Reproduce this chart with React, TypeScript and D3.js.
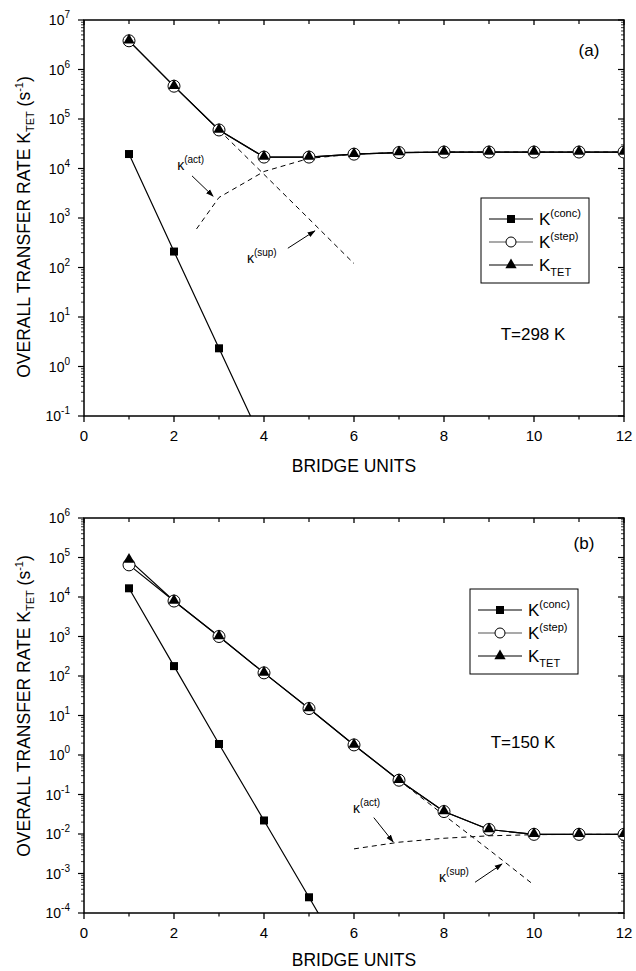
import * as d3 from 'd3';

// bridge units 1..12
const units = [1, 2, 3, 4, 5, 6, 7, 8, 9, 10, 11, 12];

// panel (a), T = 298 K
const aStep = [3.8e6, 4.6e5, 6.0e4, 1.7e4, 1.7e4, 1.95e4, 2.1e4, 2.15e4, 2.15e4, 2.15e4, 2.15e4, 2.15e4];
const aTet = [3.8e6, 4.6e5, 6.0e4, 1.7e4, 1.7e4, 1.95e4, 2.1e4, 2.15e4, 2.15e4, 2.15e4, 2.15e4, 2.15e4];
const aConcX = [1, 2, 3, 4];
const aConc = [1.96e4, 210, 2.33, 0.026];
const aActX = [2.5, 3, 4, 5, 6, 7, 8, 9, 10, 11, 12];
const aAct = [600, 2.6e3, 8.7e3, 1.6e4, 1.95e4, 2.1e4, 2.15e4, 2.15e4, 2.15e4, 2.15e4, 2.15e4];
const aSupX = [3, 4, 5, 6];
const aSup = [6.0e4, 7.6e3, 9.6e2, 1.2e2];

// panel (b), T = 150 K
const bStep = [6.5e4, 7.9e3, 1.0e3, 1.2e2, 15, 1.8, 0.23, 0.037, 0.013, 0.0098, 0.0098, 0.0098];
const bTet = [8.7e4, 7.9e3, 1.0e3, 1.2e2, 15, 1.8, 0.23, 0.037, 0.013, 0.0098, 0.0098, 0.0098];
const bConcX = [1, 2, 3, 4, 5, 6];
const bConc = [1.66e4, 178, 1.9, 0.022, 2.5e-4, 2.8e-6];
const bActX = [6, 7, 8, 9, 10, 11, 12];
const bAct = [4.2e-3, 6.2e-3, 7.8e-3, 9.0e-3, 9.6e-3, 9.8e-3, 9.8e-3];
const bSupX = [7, 8, 9, 10];
const bSup = [0.23, 0.03, 4.0e-3, 5.1e-4];

const xTicks = [0, 2, 4, 6, 8, 10, 12];
const xMinor = [1, 3, 5, 7, 9, 11];

const FONT = 'Arial, "Liberation Sans", Helvetica, sans-serif';

type PanelProps = {
  id: string;
  top: number;
  bottom: number;
  yMin: number;
  yMax: number;
  step: number[];
  tet: number[];
  concX: number[];
  conc: number[];
  actX: number[];
  act: number[];
  supX: number[];
  sup: number[];
  tag: string;
  tagPos: [number, number];
  temp: string;
  tempPos: [number, number];
  legendPos: [number, number];
  actLabel: [number, number];
  actArrow: [number, number, number, number];
  supLabel: [number, number];
  supArrow: [number, number, number, number];
  titleY: number;
  xTitleGap: number;
};

const left = 84;
const right = 624;

function Panel(p: PanelProps) {
  const x = d3.scaleLinear().domain([0, 12]).range([left, right]);
  const y = d3.scaleLog().domain([p.yMin, p.yMax]).range([p.bottom, p.top]);
  const lo = Math.round(Math.log10(p.yMin));
  const hi = Math.round(Math.log10(p.yMax));
  const decades = d3.range(lo, hi + 1);
  const minor: number[] = [];
  decades.slice(0, -1).forEach(d => {
    for (let k = 2; k <= 9; k++) minor.push(k * Math.pow(10, d));
  });

  const line = d3.line<[number, number]>().x(d => x(d[0])).y(d => y(d[1]));
  const pts = (xs: number[], ys: number[]) => xs.map((v, i) => [v, ys[i]] as [number, number]);
  const clip = `clip-${p.id}`;
  const tri = d3.symbol().type(d3.symbolTriangle).size(55)();
  const lx = p.legendPos[0];
  const ly = p.legendPos[1];
  const rowGap = 23;

  const kappa = (pos: [number, number], sup: string) => (
    <text x={x(pos[0])} y={y(pos[1])} fontSize={14} fontFamily={FONT} fill="#000">
      κ<tspan dy={-7} fontSize={10}>{sup}</tspan>
    </text>
  );
  const arrow = (a: [number, number, number, number]) => (
    <line x1={x(a[0])} y1={y(a[1])} x2={x(a[2])} y2={y(a[3])} stroke="#000" strokeWidth={1} markerEnd="url(#arrowhead)" />
  );

  return (
    <g>
      <defs>
        <clipPath id={clip}>
          <rect x={left} y={p.top} width={right - left} height={p.bottom - p.top} />
        </clipPath>
      </defs>

      {/* frame */}
      <rect x={left} y={p.top} width={right - left} height={p.bottom - p.top} fill="none" stroke="#000" strokeWidth={1.5} />

      {/* x ticks */}
      {xTicks.map(t => (
        <g key={'xt' + t}>
          <line x1={x(t)} x2={x(t)} y1={p.bottom} y2={p.bottom + 6} stroke="#000" strokeWidth={1.3} />
          <line x1={x(t)} x2={x(t)} y1={p.top} y2={p.top + 5} stroke="#000" strokeWidth={1.3} />
          <text x={x(t)} y={p.bottom + 25} textAnchor="middle" fontSize={15} fontFamily={FONT}>{t}</text>
        </g>
      ))}
      {xMinor.map(t => (
        <g key={'xm' + t}>
          <line x1={x(t)} x2={x(t)} y1={p.bottom} y2={p.bottom + 3.5} stroke="#000" strokeWidth={1.2} />
          <line x1={x(t)} x2={x(t)} y1={p.top} y2={p.top + 4} stroke="#000" strokeWidth={1.2} />
        </g>
      ))}
      <text x={(left + right) / 2} y={p.bottom + p.xTitleGap} textAnchor="middle" fontSize={17.5} fontFamily={FONT}>BRIDGE UNITS</text>

      {/* y ticks */}
      {decades.map(d => (
        <g key={'yt' + d}>
          <line x1={left - 6} x2={left} y1={y(Math.pow(10, d))} y2={y(Math.pow(10, d))} stroke="#000" strokeWidth={1.2} />
          <line x1={right - 6} x2={right} y1={y(Math.pow(10, d))} y2={y(Math.pow(10, d))} stroke="#000" strokeWidth={1.2} />
          <text x={70} y={y(Math.pow(10, d)) + 5} textAnchor="end" fontSize={14} fontFamily={FONT}>
            10<tspan dy={-7} fontSize={10}>{d}</tspan>
          </text>
        </g>
      ))}
      {minor.map((v, i) => (
        <g key={'ym' + i}>
          <line x1={left - 3} x2={left} y1={y(v)} y2={y(v)} stroke="#000" strokeWidth={0.8} />
          <line x1={right - 3} x2={right} y1={y(v)} y2={y(v)} stroke="#000" strokeWidth={0.8} />
        </g>
      ))}
      <text transform={`translate(30, ${p.titleY}) rotate(-90)`} textAnchor="middle" fontSize={17.5} fontFamily={FONT}>
        OVERALL TRANSFER RATE K<tspan dy={4} fontSize={11}>TET</tspan>
        <tspan dy={-4}> (s</tspan><tspan dy={-7} fontSize={11}>-1</tspan><tspan dy={7}>)</tspan>
      </text>

      {/* curves */}
      <g clipPath={`url(#${clip})`}>
        <path d={line(pts(p.actX, p.act)) ?? ''} fill="none" stroke="#000" strokeWidth={1} strokeDasharray="5,4" />
        <path d={line(pts(p.supX, p.sup)) ?? ''} fill="none" stroke="#000" strokeWidth={1} strokeDasharray="5,4" />
        <path d={line(pts(p.concX, p.conc)) ?? ''} fill="none" stroke="#000" strokeWidth={1.2} />
        <path d={line(pts(units, p.step)) ?? ''} fill="none" stroke="#000" strokeWidth={1.2} />
        <path d={line(pts(units, p.tet)) ?? ''} fill="none" stroke="#000" strokeWidth={1.2} />
        {p.concX.map((v, i) => (
          <rect key={'sq' + i} x={x(v) - 4} y={y(p.conc[i]) - 4} width={8} height={8} fill="#000" />
        ))}
        {units.map((v, i) => (
          <circle key={'ci' + i} cx={x(v)} cy={y(p.step[i])} r={6} fill="#fff" stroke="#000" strokeWidth={1} />
        ))}
        {units.map((v, i) => (
          <path key={'tr' + i} d={tri ?? ''} transform={`translate(${x(v)}, ${y(p.tet[i]) - 0.5})`} fill="#000" />
        ))}
      </g>

      {/* annotations */}
      {kappa(p.actLabel, '(act)')}
      {arrow(p.actArrow)}
      {kappa(p.supLabel, '(sup)')}
      {arrow(p.supArrow)}

      <text x={p.tagPos[0]} y={p.tagPos[1]} textAnchor="middle" fontSize={17} fontFamily={FONT}>{p.tag}</text>
      <text x={p.tempPos[0]} y={p.tempPos[1]} textAnchor="middle" fontSize={17} fontFamily={FONT}>{p.temp}</text>

      {/* legend */}
      <g transform={`translate(${lx}, ${ly})`} fontFamily={FONT}>
        <rect x={0} y={0} width={108} height={85} fill="#fff" stroke="#000" strokeWidth={1} />
        <line x1={8} x2={52} y1={21} y2={21} stroke="#000" strokeWidth={1.2} />
        <rect x={26} y={17} width={8} height={8} fill="#000" />
        <text x={58} y={27} fontSize={17}>K<tspan dy={-8} fontSize={11}>(conc)</tspan></text>
        <line x1={8} x2={52} y1={21 + rowGap} y2={21 + rowGap} stroke="#555" strokeWidth={1.2} />
        <circle cx={30} cy={21 + rowGap} r={5} fill="#fff" stroke="#000" strokeWidth={1} />
        <text x={58} y={27 + rowGap} fontSize={17}>K<tspan dy={-8} fontSize={11}>(step)</tspan></text>
        <line x1={8} x2={52} y1={21 + 2 * rowGap} y2={21 + 2 * rowGap} stroke="#000" strokeWidth={1.2} />
        <path d={tri ?? ''} transform={`translate(30, ${21 + 2 * rowGap})`} fill="#000" />
        <text x={58} y={27 + 2 * rowGap} fontSize={17}>K<tspan dy={5} fontSize={11}>TET</tspan></text>
      </g>
    </g>
  );
}

export default function App() {
  return (
    <svg width={636} height={971} style={{ position: 'absolute', left: 0, top: 0, background: '#fff' }}>
      <defs>
        <marker id="arrowhead" viewBox="0 0 10 10" refX={9} refY={5} markerWidth={8} markerHeight={8} orient="auto" markerUnits="userSpaceOnUse">
          <path d="M0,1.5 L10,5 L0,8.5 z" fill="#000" />
        </marker>
      </defs>
      <Panel
        id="a"
        top={20}
        bottom={416}
        yMin={1e-1}
        yMax={1e7}
        step={aStep}
        tet={aTet}
        concX={aConcX}
        conc={aConc}
        actX={aActX}
        act={aAct}
        supX={aSupX}
        sup={aSup}
        tag="(a)"
        tagPos={[589, 56]}
        temp="T=298 K"
        tempPos={[533, 340]}
        legendPos={[481, 198]}
        actLabel={[2.07, 9.3e3]}
        actArrow={[2.4, 7.1e3, 2.87, 2.75e3]}
        supLabel={[3.62, 1.23e2]}
        supArrow={[4.53, 2.45e2, 5.13, 5.5e2]}
        titleY={227}
        xTitleGap={56}
      />
      <Panel
        id="b"
        top={518}
        bottom={913}
        yMin={1e-4}
        yMax={1e6}
        step={bStep}
        tet={bTet}
        concX={bConcX}
        conc={bConc}
        actX={bActX}
        act={bAct}
        supX={bSupX}
        sup={bSup}
        tag="(b)"
        tagPos={[584, 549]}
        temp="T=150 K"
        tempPos={[523, 748]}
        legendPos={[470, 589]}
        actLabel={[5.98, 3.4e-2]}
        actArrow={[6.44, 2.6e-2, 6.87, 6.3e-3]}
        supLabel={[7.89, 6.0e-4]}
        supArrow={[8.69, 6.0e-4, 9.29, 1.74e-3]}
        titleY={706}
        xTitleGap={53}
      />
    </svg>
  );
}
